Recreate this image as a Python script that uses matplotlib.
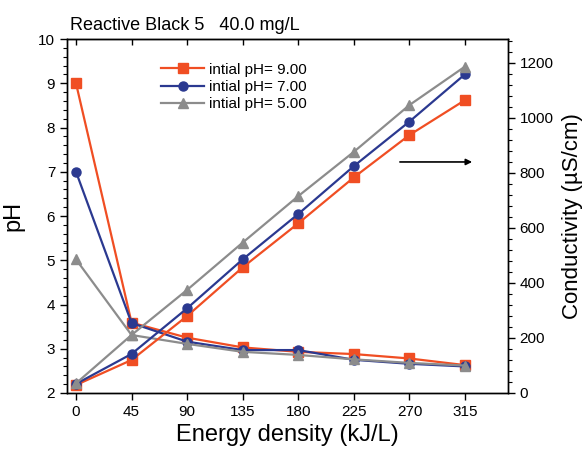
import matplotlib
matplotlib.use("Agg")
import matplotlib.pyplot as plt
from matplotlib.ticker import MultipleLocator

plt.rcParams["font.family"] = ["Liberation Sans", "DejaVu Sans"]

energy = [0, 45, 90, 135, 180, 225, 270, 315]
labels = ["intial pH= 9.00", "intial pH= 7.00", "intial pH= 5.00"]

ph_9 = [9.0, 3.59, 3.25, 3.03, 2.93, 2.88, 2.78, 2.63]
ph_7 = [7.0, 3.58, 3.16, 2.97, 2.97, 2.75, 2.66, 2.60]
ph_5 = [5.02, 3.31, 3.11, 2.93, 2.86, 2.76, 2.68, 2.62]

cond_9 = [29, 120, 280, 457, 617, 784, 938, 1065]
cond_7 = [33, 142, 308, 486, 651, 825, 987, 1159]
cond_5 = [35, 211, 375, 547, 716, 877, 1047, 1187]

colors = ["#F04E23", "#2B3990", "#8C8C8C"]
markers = ["s", "o", "^"]

fig = plt.figure(figsize=(5.85, 4.59), dpi=100)
ax = fig.add_axes([0.1145, 0.1438, 0.7535, 0.7712])
ax2 = ax.twinx()

for ph, c, m, lab in zip([ph_9, ph_7, ph_5], colors, markers, labels):
    ax.plot(energy, ph, color=c, marker=m, markersize=6.5, lw=1.6, label=lab, clip_on=False, zorder=3)
for cd, c, m in zip([cond_9, cond_7, cond_5], colors, markers):
    ax2.plot(energy, cd, color=c, marker=m, markersize=6.5, lw=1.6, clip_on=False)

ax.set_xlim(-7.3, 349.6)
ax.set_ylim(2, 10)
ax2.set_ylim(0, 1287)
ax.set_xticks(energy)
ax.yaxis.set_major_locator(MultipleLocator(1))
ax.yaxis.set_minor_locator(MultipleLocator(0.2))
ax2.yaxis.set_major_locator(MultipleLocator(200))
ax2.yaxis.set_minor_locator(MultipleLocator(40))

ax.tick_params(axis="x", which="major", direction="out", length=5, width=1, labelsize=11)
ax.tick_params(axis="y", which="major", direction="out", length=5, width=1, labelsize=11)
ax.tick_params(axis="y", which="minor", direction="out", length=3, width=0.8)
ax2.tick_params(axis="y", which="major", direction="out", length=5, width=1, labelsize=11)
ax2.tick_params(axis="y", which="minor", direction="out", length=3, width=0.8)

sec = ax.secondary_xaxis("top")
sec.set_xticks(energy)
sec.tick_params(direction="in", length=4, width=1, labeltop=False)

ax.set_xlabel("Energy density (kJ/L)", fontsize=17, labelpad=4)
ax.set_ylabel("pH", fontsize=17, labelpad=10)
ax2.set_ylabel("Conductivity (\u00b5S/cm)", fontsize=16, labelpad=6)

for a in (ax, ax2):
    for s in a.spines.values():
        s.set_linewidth(1.0)

ax.legend(loc="upper left", bbox_to_anchor=(0.2, 0.95), frameon=False, fontsize=11,
          handlelength=2.8, handletextpad=0.3, labelspacing=0.2, borderaxespad=0)

ax2.annotate("", xy=(323, 840), xytext=(260, 840),
             arrowprops=dict(arrowstyle="-|>", color="black", lw=1.2, mutation_scale=9))

fig.text(0.12, 0.945, "Reactive Black 5   40.0 mg/L", fontsize=13, ha="left", va="center")

fig.savefig("out.png", dpi=100)
